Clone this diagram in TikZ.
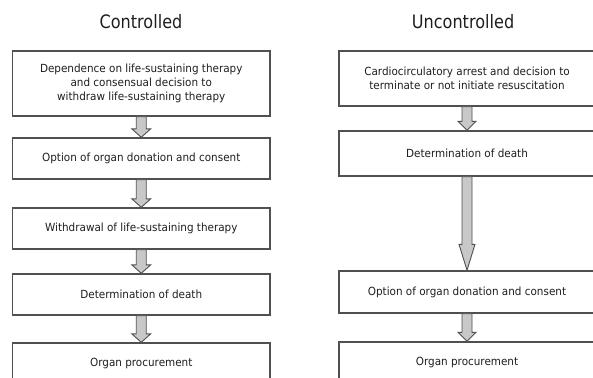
\documentclass[tikz,border=0pt]{standalone}
\usepackage{fontspec}
\setmainfont[FakeStretch=0.93]{DejaVu Sans}
\newfontfamily\titlefont[FakeStretch=0.87]{DejaVu Sans}
\usetikzlibrary{calc}
\definecolor{linec}{RGB}{80,80,80}
\definecolor{arrowfill}{RGB}{200,200,200}
\definecolor{textc}{RGB}{30,30,30}
\tikzset{
  boxL/.style={draw=linec, line width=1.4pt, minimum width=257.5pt, inner sep=0pt,
    align=center, text=textc, font=\fontsize{11.2}{14}\selectfont},
  boxR/.style={boxL, minimum width=256pt},
  title/.style={text=textc, font=\titlefont\fontsize{18.5}{22}\selectfont, inner sep=0pt},
  flowarr/.style={draw=linec, fill=arrowfill, line width=0.9pt, line join=miter}
}
% #1 from node, #2 to node, #3 head length, #4 head half width
\newcommand{\flowarrow}[4]{%
  \draw[flowarr] ($(#1.south)+(-5,0)$) -- ($(#2.north)+(-5,-#3)$) -- ($(#2.north)+(-#4,-#3)$)
    -- (#2.north) -- ($(#2.north)+(#4,-#3)$) -- ($(#2.north)+(5,-#3)$) -- ($(#1.south)+(5,0)$) -- cycle;}
\begin{document}
\begin{tikzpicture}[x=1pt,y=-1pt]
\useasboundingbox (0,0) rectangle (593,377);
\clip (0,0) rectangle (593,377);
\node[title] (tc) at (141,22) {Controlled};
\node[title] (tu) at (463,22) {Uncontrolled};
% left column
\node[boxL, minimum height=65pt] (l1) at (141.25,83.5) {Dependence on life-sustaining therapy\\and consensual decision to\\withdraw life-sustaining therapy};
\node[boxL, minimum height=41pt] (l2) at (141.25,158.5) {Option of organ donation and consent};
\node[boxL, minimum height=41pt] (l3) at (141.25,228.5) {Withdrawal of life-sustaining therapy};
\node[boxL, minimum height=41pt] (l4) at (141.25,294.5) {Determination of death};
\node[boxL, minimum height=41pt] (l5) at (141.25,363.5) {Organ procurement};
% right column
\node[boxR, minimum height=55pt] (r1) at (467,78.5) {Cardiocirculatory arrest and decision to\\terminate or not initiate resuscitation};
\node[boxR, minimum height=45pt] (r2) at (467,153.5) {Determination of death};
\node[boxR, minimum height=42pt] (r3) at (467,292) {Option of organ donation and consent};
\node[boxR, minimum height=42pt] (r4) at (467,363) {Organ procurement};
% arrows
\flowarrow{l1}{l2}{8.5}{9.5}
\flowarrow{l2}{l3}{8.5}{9.5}
\flowarrow{l3}{l4}{8.5}{9.5}
\flowarrow{l4}{l5}{8.5}{9.5}
\flowarrow{r1}{r2}{9}{9}
\flowarrow{r2}{r3}{26}{8}
\flowarrow{r3}{r4}{9}{9}
\end{tikzpicture}
\end{document}
